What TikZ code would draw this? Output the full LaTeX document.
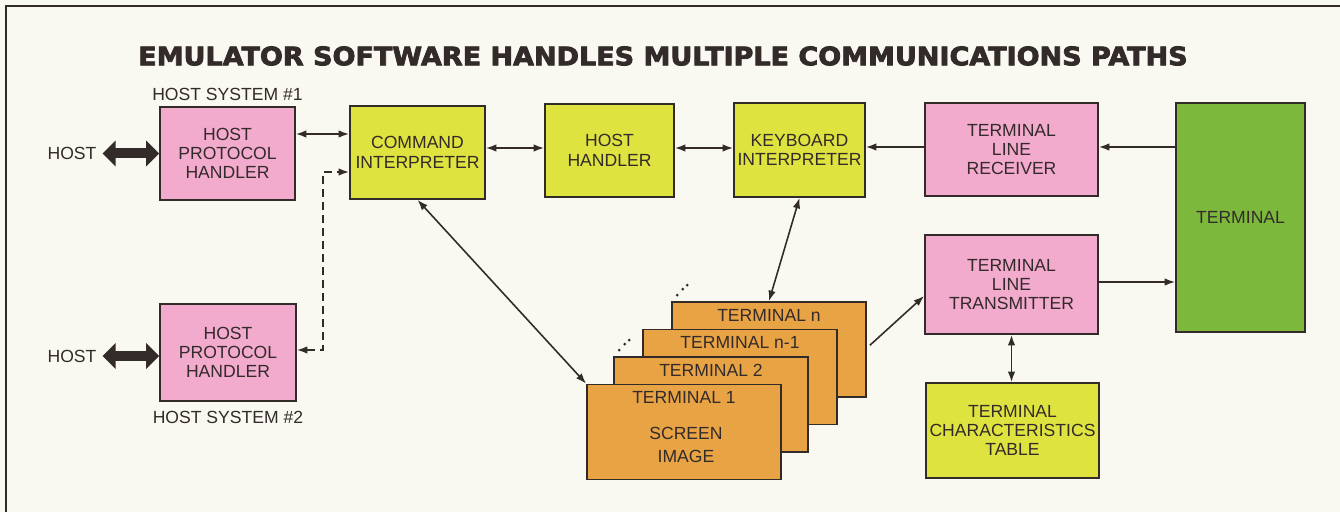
\documentclass[tikz,border=0pt]{standalone}
\usepackage{fontspec}
\setmainfont{Liberation Sans}
\newfontfamily\titlefont{DejaVu Sans}[BoldFeatures={FakeBold=3}]
\usepackage{tikz}
\usetikzlibrary{arrows.meta, positioning, calc}

\definecolor{paper}{HTML}{F9F8F1}
\definecolor{edge}{HTML}{332A2A}
\definecolor{pinkfill}{HTML}{F2AACD}
\definecolor{yelfill}{HTML}{DFE340}
\definecolor{cardfill}{HTML}{E8A444}
\definecolor{termfill}{HTML}{7CB83C}

\begin{document}
\begin{tikzpicture}[x=0.2mm, y=-0.2mm, font=\fontsize{10}{11}\selectfont, text=edge,
  >={Latex[length=2.1mm,width=1.5mm]},
  box/.style={draw=edge, line width=1pt, inner sep=1pt, align=center},
  pinkb/.style={box, fill=pinkfill},
  yelb/.style={box, fill=yelfill},
  card/.style={box, fill=cardfill, minimum width=38.8mm, minimum height=19mm},
  cardtxt/.style={inner sep=0pt, anchor=north},
  link/.style={draw=edge, line width=0.9pt},
  dlink/.style={link, dash pattern=on 1.6mm off 1mm},
  fat/.style={draw=edge, line width=2mm,
    {Triangle[length=2.6mm,width=5mm]}-{Triangle[length=2.6mm,width=5mm]}},
  hostlbl/.style={inner sep=1pt}
]
  \fill[paper] (0,0) rectangle (1340,512);
  \useasboundingbox (0,0) rectangle (1340,512);
  \draw[edge, line width=1.6pt] (6,512) -- (6,6) -- (1340,6);

  \node[font=\titlefont\bfseries\fontsize{14.5}{16}\selectfont] (title) at (663,56)
    {\scalebox{1.06}[1]{EMULATOR SOFTWARE HANDLES MULTIPLE COMMUNICATIONS PATHS}};

  % host side
  \node[pinkb, minimum width=27mm, minimum height=18.6mm] (hph1) at (227.5,153.5) {HOST\\PROTOCOL\\HANDLER};
  \node[pinkb, minimum width=27.2mm, minimum height=19.4mm] (hph2) at (228,352.5) {HOST\\PROTOCOL\\HANDLER};
  \node[hostlbl, above=2pt of hph1] (sys1) {HOST SYSTEM \#1};
  \node[hostlbl, below=4pt of hph2] (sys2) {HOST SYSTEM \#2};
  \node (host1) at (72,153.5) {HOST};
  \node (host2) at (72,356) {HOST};
  \draw[fat] (host1) -- (hph1.west |- host1);
  \draw[fat] (host2) -- (hph2.west |- host2);

  % top row
  \node[yelb, minimum width=27mm, minimum height=18.6mm] (cmd) at (417.5,152.5) {COMMAND\\INTERPRETER};
  \node[yelb, minimum width=25.8mm, minimum height=18.6mm] (hh) at (609.5,150.5) {HOST\\HANDLER};
  \node[yelb, minimum width=26.2mm, minimum height=18.8mm] (kb) at (799.5,150) {KEYBOARD\\INTERPRETER};
  \node[pinkb, minimum width=34.6mm, minimum height=18.6mm] (recv) at (1011.5,149.5) {TERMINAL\\LINE\\RECEIVER};
  \node[box, fill=termfill, minimum width=25.8mm, minimum height=45.8mm] (term) at (1240.5,217.5) {TERMINAL};
  \node[pinkb, minimum width=34.6mm, minimum height=19.8mm] (tx) at (1011.5,284.5) {TERMINAL\\LINE\\TRANSMITTER};
  \node[yelb, minimum width=34.6mm, minimum height=19mm] (table) at (1012.5,430.5) {TERMINAL\\CHARACTERISTICS\\TABLE};

  % screen images
  \node[card] (tn)  at (769,349.5) {};
  \node[card] (tn1) at (740,377)   {};
  \node[card] (t2)  at (711,404.5) {};
  \node[card] (t1)  at (684,432)   {};
  \node[cardtxt] (tnlbl)  at ([yshift=-0.15cm]tn.north)  {TERMINAL n};
  \node[cardtxt] (tn1lbl) at ([yshift=-0.15cm]tn1.north) {TERMINAL n-1};
  \node[cardtxt] (t2lbl)  at ([yshift=-0.15cm]t2.north)  {TERMINAL 2};
  \node[cardtxt] (t1lbl)  at ([yshift=-0.15cm]t1.north)  {TERMINAL 1};
  \node[align=center, inner sep=0pt] (scr) at (686,445) {SCREEN\\[2pt]IMAGE};
  \foreach \c in {tn, t2}
    \foreach \d in {{6,-6},{11.5,-12},{16,-16}}
      \fill[edge] ($(\c.north west)+(\d)$) circle (0.3mm);

  % connectors
  \coordinate (jog) at (323,172);
  \draw[link, <->] (hph1.east |- 0,134) -- (cmd.west |- 0,134);
  \draw[dlink, <->] (hph2.east |- 0,350) -| (jog) -- (cmd.west |- jog);
  \draw[link, <->] (cmd.east |- 0,148) -- (hh.west |- 0,148);
  \draw[link, <->] (hh.east |- 0,148) -- (kb.west |- 0,148);
  \draw[link, ->] (recv.west |- 0,147) -- (kb.east |- 0,147);
  \draw[link, ->] (term.west |- 0,147) -- (recv.east |- 0,147);
  \draw[link, ->] (tx.east |- 0,282) -- (term.west |- 0,282);
  \draw[link, <->] (tx.south) -- (tx.south |- table.north);
  \draw[link, ->, shorten <=0.8mm] (tn.east |- 0,348) -- (tx.west |- 0,296);
  \draw[link, <->] (kb.south) -- (tn.north);
  \draw[link, <->] (cmd.south) -- (t1.north west);
\end{tikzpicture}
\end{document}
